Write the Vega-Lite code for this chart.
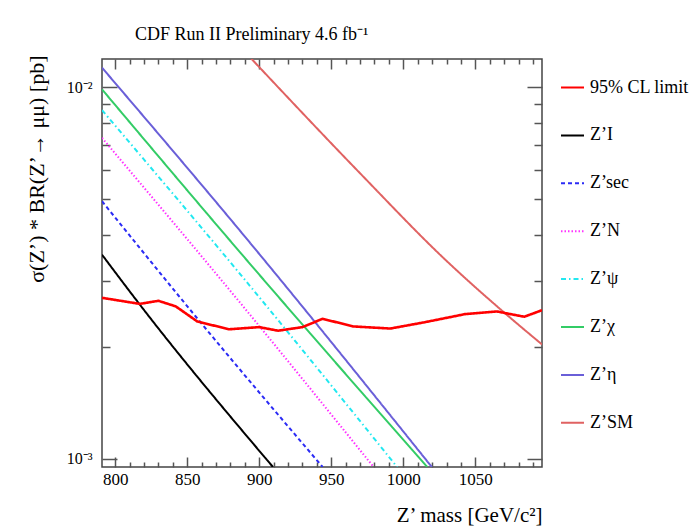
{
  "$schema": "https://vega.github.io/schema/vega-lite/v6.json",
  "width": 440,
  "height": 408,
  "autosize": {"type": "none"},
  "padding": {"left": 102, "top": 59, "right": 148, "bottom": 60},
  "background": "white",
  "title": {
    "text": "CDF Run II Preliminary 4.6 fb⁻¹",
    "anchor": "start",
    "frame": "group",
    "dx": 33,
    "offset": -3,
    "baseline": "alphabetic",
    "fontSize": 18,
    "fontWeight": "normal",
    "font": "Liberation Serif",
    "color": "black"
  },
  "datasets": {
    "theory": [
      {"model": "Z’I", "mass": 790.8, "xsec": 0.00354},
      {"model": "Z’I", "mass": 817, "xsec": 0.0026},
      {"model": "Z’I", "mass": 909.5, "xsec": 0.00095},
      {"model": "Z’sec", "mass": 790.8, "xsec": 0.00493},
      {"model": "Z’sec", "mass": 856, "xsec": 0.00241},
      {"model": "Z’sec", "mass": 944, "xsec": 0.00095},
      {"model": "Z’N", "mass": 790.8, "xsec": 0.0073},
      {"model": "Z’N", "mass": 887, "xsec": 0.00262},
      {"model": "Z’N", "mass": 979.4, "xsec": 0.00095},
      {"model": "Z’ψ", "mass": 790.8, "xsec": 0.00867},
      {"model": "Z’ψ", "mass": 887, "xsec": 0.00313},
      {"model": "Z’ψ", "mass": 995.7, "xsec": 0.00095},
      {"model": "Z’χ", "mass": 790.8, "xsec": 0.00986},
      {"model": "Z’χ", "mass": 887, "xsec": 0.00358},
      {"model": "Z’χ", "mass": 1016.6, "xsec": 0.00095},
      {"model": "Z’η", "mass": 790.8, "xsec": 0.01128},
      {"model": "Z’η", "mass": 887, "xsec": 0.00409},
      {"model": "Z’η", "mass": 1019.8, "xsec": 0.00095},
      {"model": "Z’SM", "mass": 893.8, "xsec": 0.012},
      {"model": "Z’SM", "mass": 970.2, "xsec": 0.00585},
      {"model": "Z’SM", "mass": 1029.2, "xsec": 0.00343},
      {"model": "Z’SM", "mass": 1069.7, "xsec": 0.00248},
      {"model": "Z’SM", "mass": 1096.3, "xsec": 0.00203}
    ],
    "limit": [
      {"model": "95% CL limit", "mass": 790.8, "xsec": 0.00271},
      {"model": "95% CL limit", "mass": 817, "xsec": 0.00261},
      {"model": "95% CL limit", "mass": 830, "xsec": 0.00266},
      {"model": "95% CL limit", "mass": 842, "xsec": 0.00257},
      {"model": "95% CL limit", "mass": 857, "xsec": 0.00234},
      {"model": "95% CL limit", "mass": 879, "xsec": 0.00223},
      {"model": "95% CL limit", "mass": 900, "xsec": 0.00226},
      {"model": "95% CL limit", "mass": 913, "xsec": 0.00221},
      {"model": "95% CL limit", "mass": 930, "xsec": 0.00226},
      {"model": "95% CL limit", "mass": 944, "xsec": 0.00238},
      {"model": "95% CL limit", "mass": 965, "xsec": 0.00227},
      {"model": "95% CL limit", "mass": 991, "xsec": 0.00224},
      {"model": "95% CL limit", "mass": 1015, "xsec": 0.00233},
      {"model": "95% CL limit", "mass": 1043, "xsec": 0.00245},
      {"model": "95% CL limit", "mass": 1065, "xsec": 0.00249},
      {"model": "95% CL limit", "mass": 1084, "xsec": 0.00241},
      {"model": "95% CL limit", "mass": 1096.3, "xsec": 0.00251}
    ]
  },
  "config": {
    "font": "Liberation Serif",
    "view": {"stroke": "#444444", "strokeWidth": 1.5},
    "axis": {
      "domain": false,
      "grid": false,
      "tickColor": "#555555",
      "tickWidth": 1.5,
      "labelColor": "black",
      "labelFont": "Liberation Serif",
      "titleFont": "Liberation Serif",
      "titleColor": "black",
      "titleFontWeight": "normal"
    },
    "legend": {
      "labelFont": "Liberation Serif",
      "labelColor": "black"
    }
  },
  "layer": [
    {
      "data": {"name": "theory"},
      "mark": {"type": "line", "strokeWidth": 2, "clip": true, "interpolate": "monotone"},
      "encoding": {
        "x": {
          "field": "mass",
          "type": "quantitative",
          "scale": {"domain": [790.8, 1096.3], "nice": false, "zero": false},
          "axis": {
            "orient": "bottom",
            "values": [800, 810, 820, 830, 840, 850, 860, 870, 880, 890, 900, 910, 920, 930, 940, 950, 960, 970, 980, 990, 1000, 1010, 1020, 1030, 1040, 1050, 1060, 1070, 1080, 1090],
            "format": "d",
            "labelExpr": "datum.value % 50 === 0 ? datum.label : ''",
            "tickSize": {"condition": {"test": "datum.value % 50 === 0", "value": -10}, "value": -5},
            "labelPadding": 14,
            "labelFontSize": 17,
            "labelFlush": false,
            "labelOverlap": false,
            "title": "Z’ mass [GeV/c²]",
            "titleFontSize": 21,
            "titleAnchor": "end",
            "titleAlign": "right",
            "titleBaseline": "alphabetic",
            "titleX": 440,
            "titleY": 54
          }
        },
        "y": {
          "field": "xsec",
          "type": "quantitative",
          "scale": {"type": "log", "domain": [0.00095, 0.0119], "nice": false},
          "axis": {
            "orient": "left",
            "values": [0.001, 0.002, 0.003, 0.004, 0.005, 0.006, 0.007, 0.008, 0.009, 0.01],
            "labelExpr": "datum.value > 0.0099 ? '10⁻²' : (datum.value < 0.00101 ? '10⁻³' : '')",
            "tickSize": {"condition": {"test": "datum.value > 0.0099 || datum.value < 0.00101", "value": -15}, "value": -8},
            "labelPadding": 25,
            "labelFontSize": 16,
            "labelOverlap": false,
            "title": "σ(Z’) * BR(Z’→ μμ) [pb]",
            "titleFontSize": 22,
            "titleAngle": 270,
            "titleAnchor": "end",
            "titleAlign": "right",
            "titleBaseline": "alphabetic",
            "titleX": -59,
            "titleY": -4
          }
        },
        "color": {
          "field": "model",
          "type": "nominal",
          "scale": {
            "domain": ["95% CL limit", "Z’I", "Z’sec", "Z’N", "Z’ψ", "Z’χ", "Z’η", "Z’SM"],
            "range": ["#ff0000", "#000000", "#2b2bf5", "#ff33ff", "#22e8f0", "#33cc66", "#6a5fd8", "#e06262"]
          },
          "legend": {
            "orient": "none",
            "legendX": 458,
            "legendY": 16,
            "title": null,
            "symbolType": "stroke",
            "symbolSize": 529,
            "symbolStrokeWidth": 2,
            "labelFontSize": 18,
            "labelOffset": 5,
            "rowPadding": 25.9,
            "padding": 0,
            "labelLimit": 200
          }
        },
        "strokeDash": {
          "field": "model",
          "type": "nominal",
          "scale": {
            "domain": ["95% CL limit", "Z’I", "Z’sec", "Z’N", "Z’ψ", "Z’χ", "Z’η", "Z’SM"],
            "range": [[1, 0], [1, 0], [4, 3], [1.5, 2], [5, 3, 1.5, 3], [1, 0], [1, 0], [1, 0]]
          },
          "legend": {
            "orient": "none",
            "legendX": 458,
            "legendY": 16,
            "title": null,
            "symbolType": "stroke",
            "symbolSize": 529,
            "symbolStrokeWidth": 2,
            "labelFontSize": 18,
            "labelOffset": 5,
            "rowPadding": 25.9,
            "padding": 0,
            "labelLimit": 200
          }
        }
      }
    },
    {
      "data": {"name": "limit"},
      "mark": {"type": "line", "strokeWidth": 2.6, "clip": true},
      "encoding": {
        "x": {
          "field": "mass",
          "type": "quantitative",
          "scale": {"domain": [790.8, 1096.3], "nice": false, "zero": false},
          "axis": {
            "orient": "top",
            "values": [800, 810, 820, 830, 840, 850, 860, 870, 880, 890, 900, 910, 920, 930, 940, 950, 960, 970, 980, 990, 1000, 1010, 1020, 1030, 1040, 1050, 1060, 1070, 1080, 1090],
            "labels": false,
            "tickSize": {"condition": {"test": "datum.value % 50 === 0", "value": -10}, "value": -5},
            "title": null
          }
        },
        "y": {
          "field": "xsec",
          "type": "quantitative",
          "scale": {"type": "log", "domain": [0.00095, 0.0119], "nice": false},
          "axis": {
            "orient": "right",
            "values": [0.001, 0.002, 0.003, 0.004, 0.005, 0.006, 0.007, 0.008, 0.009, 0.01],
            "labels": false,
            "tickSize": {"condition": {"test": "datum.value > 0.0099 || datum.value < 0.00101", "value": -15}, "value": -8},
            "title": null
          }
        },
        "color": {"field": "model", "type": "nominal"},
        "strokeDash": {"field": "model", "type": "nominal"}
      }
    }
  ],
  "resolve": {"axis": {"x": "independent", "y": "independent"}}
}
